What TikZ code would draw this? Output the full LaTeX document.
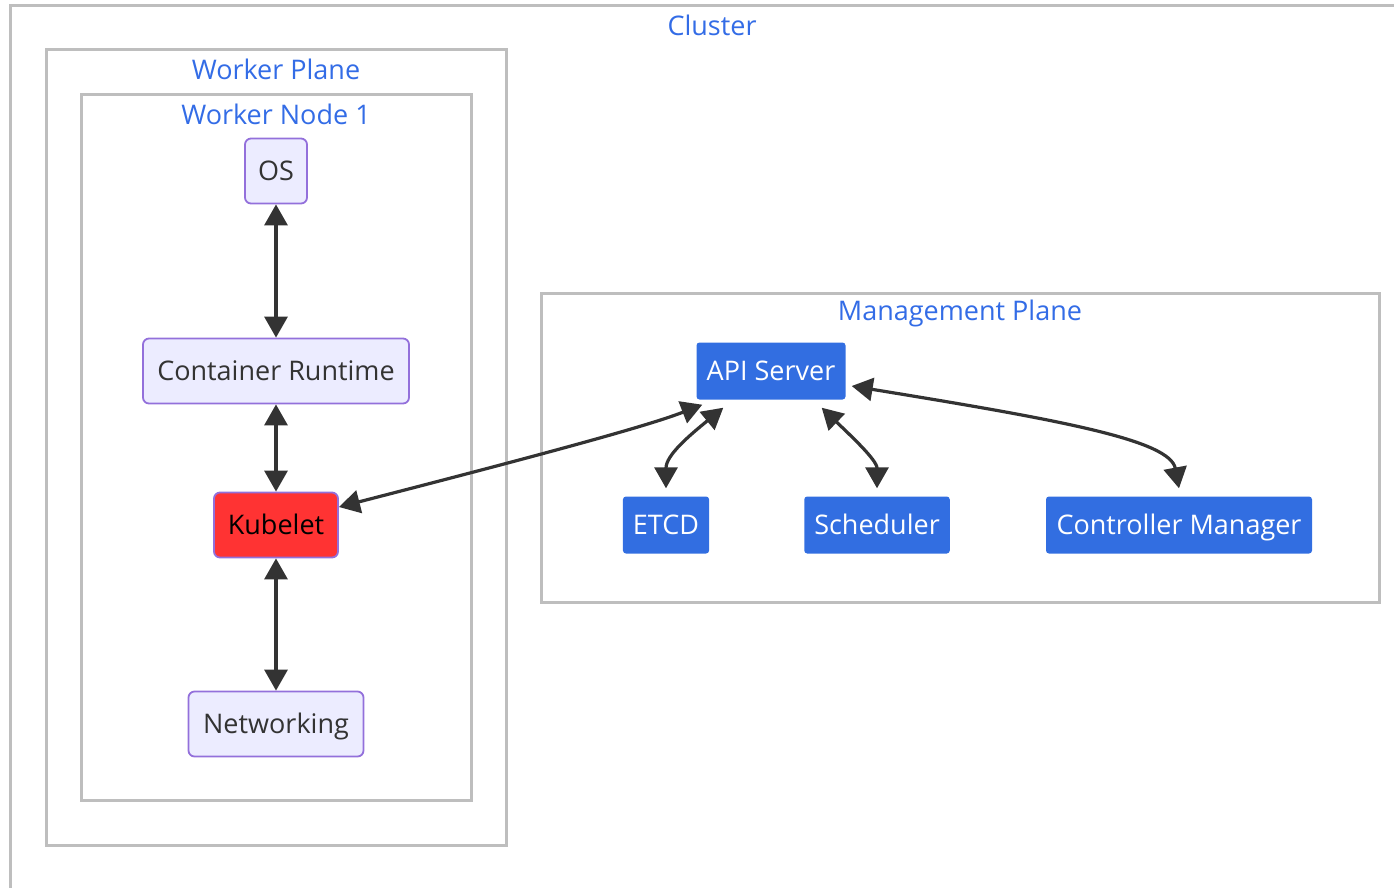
\documentclass[tikz,border=0pt]{standalone}
\usepackage{fontspec}
\setmainfont{Open Sans}
\usepackage{tikz}
\usetikzlibrary{arrows.meta, calc}
\definecolor{framegray}{RGB}{190, 190, 190}
\definecolor{titleblue}{RGB}{51, 108, 230}
\definecolor{nodefill}{RGB}{236, 236, 255}
\definecolor{nodeborder}{RGB}{147, 112, 219}
\definecolor{mgmtblue}{RGB}{50, 110, 225}
\definecolor{kubered}{RGB}{255, 51, 51}
\definecolor{linkgray}{RGB}{51, 51, 51}

\begin{document}
\begin{tikzpicture}[x=1pt, y=-1pt,
    frame/.style={draw=framegray, line width=3pt},
    title/.style={text=titleblue, font=\fontsize{27}{31}\selectfont},
    worker/.style={draw=nodeborder, fill=nodefill, line width=1.8pt, rounded corners=6pt,
        text=linkgray, font=\fontsize{27}{31}\selectfont, text height=25pt, text depth=6pt,
        minimum height=65pt, inner xsep=13pt},
    mgmt/.style={fill=mgmtblue, rounded corners=3pt, text=white,
        font=\fontsize{27}{31}\selectfont, text height=25pt, text depth=6pt,
        minimum height=57pt, inner xsep=10pt},
    link/.style={draw=linkgray, line width=3.2pt,
        {Triangle[length=21pt, width=23pt]}-{Triangle[length=21pt, width=23pt]}}]
    \useasboundingbox (0,0) rectangle (1394,887);
    \clip (0,0) rectangle (1394,887);

    % Frames
    \draw[frame] (10,5) rectangle (1420,900);
    \node[title] (clustertitle) at (712,25) {Cluster};
    \draw[frame] (46,49) rectangle (506,845);
    \node[title] (workertitle) at (276,69) {Worker Plane};
    \draw[frame] (81,94) rectangle (471,800);
    \node[title] (nodetitle) at (276,114) {Worker Node 1};
    \draw[frame] (541,293) rectangle (1379,602);
    \node[title] (mgmttitle) at (960,313) {Management Plane};

    % Worker node
    \node[worker, minimum width=62pt] (os) at (276,171) {OS};
    \node[worker, minimum width=266pt] (runtime) at (276,371) {Container Runtime};
    \node[worker, fill=kubered, text=black, minimum width=124pt] (kubelet) at (276,525) {Kubelet};
    \node[worker, minimum width=175pt] (network) at (276,724) {Networking};

    % Management plane
    \node[mgmt, minimum width=149pt] (api) at (771,371) {API Server};
    \node[mgmt, minimum width=84pt] (etcd) at (666,525) {ETCD};
    \node[mgmt, minimum width=144pt] (sched) at (877,525) {Scheduler};
    \node[mgmt, minimum width=266pt] (ctrl) at (1179,525) {Controller Manager};

    % Links
    \draw[link] (os.south) -- (runtime.north);
    \draw[link] (runtime.south) -- (kubelet.north);
    \draw[link] (kubelet.south) -- (network.north);
    \draw[link] ($(kubelet.east)+(0,-18)$) .. controls (560,450) and (650,425) .. ($(api.south west)+(6,5)$);
    \draw[link] ($(api.south west)+(27,8)$) .. controls (690,435) and (666,455) .. ($(etcd.north)+(0,-8)$);
    \draw[link] ($(api.south east)+(-24,8)$) .. controls (850,435) and (877,460) .. ($(sched.north)+(0,-8)$);
    \draw[link] ($(api.east)+(6,15)$) .. controls (1060,420) and (1170,440) .. ($(ctrl.north)+(0,-8)$);
\end{tikzpicture}
\end{document}
